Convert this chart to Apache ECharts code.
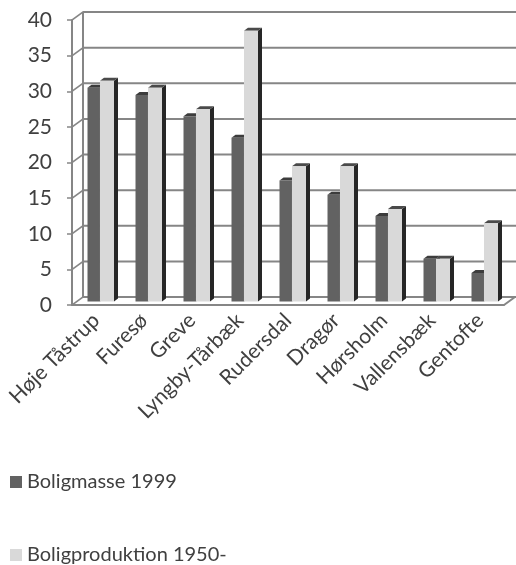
<!DOCTYPE html>
<html>
<head>
<meta charset="utf-8">
<script src="https://cdn.jsdelivr.net/npm/echarts@6/dist/echarts.min.js"></script>
<style>
  html, body { margin: 0; padding: 0; background: #fff; }
  #chart { width: 516px; height: 565px; }
</style>
</head>
<body>
<div id="chart"></div>
<script>
// Municipalities and the two housing shares (percent)
const categories = ['Høje Tåstrup', 'Furesø', 'Greve', 'Lyngby-Tårbæk', 'Rudersdal', 'Dragør', 'Hørsholm', 'Vallensbæk', 'Gentofte'];
const boligmasse1999 = [30, 29, 26, 23, 17, 15, 12, 6, 4];
const boligproduktion1950 = [31, 30, 27, 38, 19, 19, 13, 6, 11];
const seriesNames = ['Boligmasse 1999', 'Boligproduktion 1950-'];
const yTicks = [0, 5, 10, 15, 20, 25, 30, 35, 40];
const yMin = 0, yMax = 40, yStep = 5;

const FONT = 'Lato';
const TEXT = '#404040';
const AXIS = '#868686';
const DARK = '#626262';
const LIGHT = '#d9d9d9';

// front plane of the pseudo-3D box; the back wall sits DEPTH_X right and DEPTH_Y up
const FRONT = { left: 72, top: 20, width: 432, height: 285 };
const DEPTH_X = 11, DEPTH_Y = 8;

// column drawn as front face + top face + side face
function columnRenderer(fromFrac, toFrac, faceColor, topColor, sideColor) {
  return function (params, api) {
    const i = api.value(0);
    const v = api.value(1);
    const band = api.size([1, 0])[0];
    const base = api.coord([i, 0]);
    const head = api.coord([i, v]);
    const lift = 3.5;           // columns stand slightly behind the front plane
    const dx = 4, dy = 3;       // visible depth of each column
    const x0 = base[0] + fromFrac * band;
    const x1 = base[0] + toFrac * band;
    const yb = base[1] - lift;
    const yt = head[1] - lift;
    return {
      type: 'group',
      children: [
        { type: 'polygon', shape: { points: [[x1, yt], [x1 + dx, yt - dy], [x1 + dx, yb - dy], [x1, yb]] },
          style: { fill: sideColor } },
        { type: 'polygon', shape: { points: [[x0, yt], [x1, yt], [x1 + dx, yt - dy], [x0 + dx, yt - dy]] },
          style: { fill: topColor } },
        { type: 'rect', shape: { x: x0, y: yt, width: x1 - x0, height: yb - yt },
          style: { fill: faceColor } }
      ]
    };
  };
}

// back-wall rule for one tick value, with its slanted run along the side wall
function wallRule(params, api) {
  const v = api.value(1);
  const p = api.coord([0, v]);
  const cs = params.coordSys;
  const xb = cs.x + DEPTH_X;
  const yb = p[1] - DEPTH_Y;
  return {
    type: 'group',
    children: [
      { type: 'rect', shape: { x: xb, y: yb - 1, width: cs.width + 1, height: 2 },
        style: { fill: AXIS } },
      { type: 'polygon', shape: { points: [
          [cs.x, p[1] - 1], [xb, yb - 1], [xb, yb + 1], [cs.x, p[1] + 1]] },
        style: { fill: AXIS } }
    ]
  };
}

function legendBlock(name, color, top) {
  return {
    orient: 'vertical', left: 5, top: top,
    itemWidth: 12, itemHeight: 12, icon: 'rect',
    textStyle: { fontFamily: FONT, fontSize: 20, color: TEXT },
    data: [{ name: name, itemStyle: { color: color } }]
  };
}

const chart = echarts.init(document.getElementById('chart'), null, { renderer: 'canvas' });

chart.setOption({
  animation: false,
  grid: Object.assign({}, FRONT),
  legend: [
    legendBlock(seriesNames[0], DARK, 467),
    legendBlock(seriesNames[1], LIGHT, 540)
  ],
  xAxis: {
    type: 'category', data: categories,
    axisLine: { lineStyle: { color: AXIS, width: 2 } },
    axisTick: { length: 6, lineStyle: { color: AXIS, width: 1.5 } },
    axisLabel: { rotate: 45, fontSize: 21, color: TEXT, margin: 12, fontFamily: FONT, interval: 0 },
    splitLine: { show: false }
  },
  yAxis: {
    type: 'value', min: yMin, max: yMax, interval: yStep,
    axisLine: { show: true, lineStyle: { color: AXIS, width: 2 } },
    axisTick: { show: true, length: 5, lineStyle: { color: AXIS, width: 1.5 } },
    axisLabel: { fontSize: 21, color: TEXT, margin: 20, fontFamily: FONT },
    splitLine: { show: false }
  },
  series: [
    {
      name: 'wall', type: 'custom',
      silent: true, clip: false,
      renderItem: wallRule,
      data: yTicks.map(v => [0, v]),
      z: 1
    },
    {
      name: seriesNames[0], type: 'custom',
      itemStyle: { color: DARK },
      renderItem: columnRenderer(-0.177, 0.083, DARK, '#3c3c3c', '#333333'),
      data: boligmasse1999.map((v, i) => [i, v]),
      z: 3
    },
    {
      name: seriesNames[1], type: 'custom',
      itemStyle: { color: LIGHT },
      renderItem: columnRenderer(0.083, 0.375, LIGHT, '#4a4a4a', '#262626'),
      data: boligproduktion1950.map((v, i) => [i, v]),
      z: 4
    }
  ]
});

// back-wall left edge and the floor's right edge
const yf0 = chart.convertToPixel({ yAxisIndex: 0 }, yMin);
const yfTop = chart.convertToPixel({ yAxisIndex: 0 }, yMax);
const line = (x1, y1, x2, y2) => ({
  type: 'line', silent: true,
  shape: { x1: x1, y1: y1, x2: x2, y2: y2 },
  style: { stroke: AXIS, lineWidth: 2 }
});
chart.setOption({ graphic: [
  line(FRONT.left + DEPTH_X, yfTop - DEPTH_Y, FRONT.left + DEPTH_X, yf0 - DEPTH_Y),
  line(FRONT.left + FRONT.width, yf0, FRONT.left + FRONT.width + DEPTH_X, yf0 - DEPTH_Y)
] });
</script>
</body>
</html>
